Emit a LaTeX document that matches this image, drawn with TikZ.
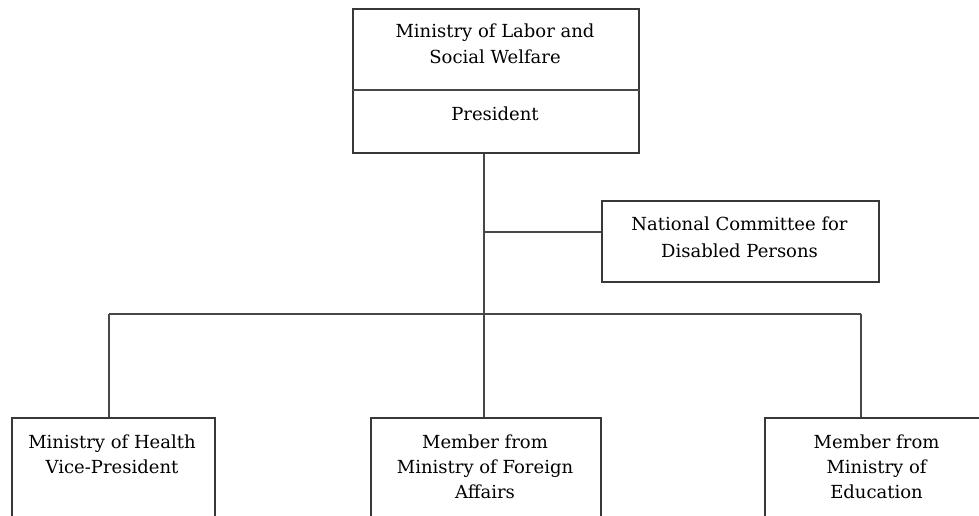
\documentclass[tikz,border=0pt]{standalone}
\usepackage{fontspec}
\setmainfont{DejaVu Serif}
\begin{document}
\begin{tikzpicture}[x=1pt,y=-1pt,
  box/.style={draw=black!78,line width=1.6pt,anchor=north west,inner sep=0pt},
  conn/.style={draw=black!72,line width=1.6pt},
  lbl/.style={anchor=base,inner sep=0pt,font=\fontsize{18}{25}\selectfont,text=black}]
\clip (0,0) rectangle (979,515);
\useasboundingbox (0,0) rectangle (979,515);
% boxes
\node[box,minimum width=286pt,minimum height=144pt] (top) at (352,8) {};
\node[box,minimum width=277pt,minimum height=81pt] (comm) at (601,200) {};
\node[box,minimum width=203pt,minimum height=140pt] (left) at (11,417) {};
\node[box,minimum width=230pt,minimum height=140pt] (mid) at (370,417) {};
\node[box,minimum width=226pt,minimum height=140pt] (right) at (764,417) {};
\draw[conn] (top.west |- 0,90) -- (top.east |- 0,90);
% texts
\node[lbl] (t1) at (495,37) {Ministry of Labor and};
\node[lbl] (t2) at (495,63) {Social Welfare};
\node[lbl] (t3) at (495,120) {President};
\node[lbl] (c1) at (739.5,230) {National Committee for};
\node[lbl] (c2) at (739.5,257) {Disabled Persons};
\node[lbl] (l1) at (112,448) {Ministry of Health};
\node[lbl] (l2) at (112,473) {Vice-President};
\node[lbl] (m1) at (485,448) {Member from};
\node[lbl] (m2) at (485,473) {Ministry of Foreign};
\node[lbl] (m3) at (485,498) {Affairs};
\node[lbl] (r1) at (876.5,448) {Member from};
\node[lbl] (r2) at (876.5,473) {Ministry of};
\node[lbl] (r3) at (876.5,498) {Education};
% connectors
\coordinate (bar) at (484,314);
\coordinate (lj) at (109,314);
\coordinate (rj) at (861,314);
\draw[conn] (bar |- top.south) -- (bar |- mid.north);
\draw[conn] (bar |- 0,232) -- (comm.west |- 0,232);
\draw[conn] (lj) -- (rj);
\draw[conn] (lj) -- (lj |- left.north);
\draw[conn] (rj) -- (rj |- right.north);
\end{tikzpicture}
\end{document}
